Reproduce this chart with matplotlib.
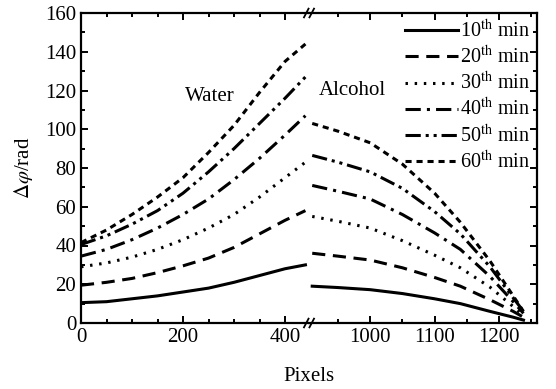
import numpy as np
import matplotlib.pyplot as plt
from matplotlib.ticker import MultipleLocator

plt.rcParams['font.family'] = 'Liberation Serif'
plt.rcParams['mathtext.fontset'] = 'stix'

# water side (left panel)
x_water = [0, 50, 100, 150, 200, 250, 300, 350, 400, 440]
water = {
    '10': [10.5, 11, 12.5, 14, 16, 18, 21, 24.5, 28, 30],
    '20': [19.5, 21, 23, 26, 29.5, 33.5, 39, 46, 53, 58],
    '30': [29, 31, 34, 38, 43, 49, 56, 65, 75, 83],
    '40': [34.5, 38, 43, 49, 56, 64, 74, 85, 97, 107],
    '50': [40.5, 45, 51, 58, 67, 78, 90, 103, 116, 127],
    '60': [41.5, 48, 56, 65, 75, 88, 102, 119, 135, 144],
}

# alcohol side (right panel)
x_alc = [910, 950, 1000, 1050, 1100, 1140, 1186, 1222, 1238]
alcohol = {
    '10': [19, 18.3, 17.2, 15.2, 12.5, 10, 6, 3, 1.5],
    '20': [36, 34.5, 32.5, 28.5, 23.5, 19, 12, 6, 3],
    '30': [55, 52.5, 49, 42.5, 35, 28.5, 18.5, 8.5, 4],
    '40': [71, 68, 64, 56, 46.5, 38, 24, 11, 5],
    '50': [86.5, 83, 78, 69.5, 57.5, 46, 29, 13, 6],
    '60': [103, 99, 93, 82, 67, 52, 32, 14, 6],
}

styles = {
    '10': '-',
    '20': (0, (4.3, 2.5)),
    '30': (0, (0.8, 2.2)),
    '40': (0, (5, 2, 1, 2)),
    '50': (0, (5, 1.6, 1, 1.6, 1, 1.6)),
    '60': (0, (2, 1.6)),
}

fig = plt.figure(figsize=(5.56, 3.89), dpi=100)
axL = fig.add_axes([81/556, 1-323/389, 228/556, 310/389])
axR = fig.add_axes([309/556, 1-323/389, 228/556, 310/389], sharey=axL)

lw = 2.2
for k in water:
    axL.plot(x_water, water[k], color='black', lw=lw, linestyle=styles[k])
    axR.plot(x_alc, alcohol[k], color='black', lw=lw, linestyle=styles[k],
             label='%s$^{\\rm th}$ min' % k)

axL.set_xlim(0, 447)
axR.set_xlim(905, 1259)
axL.set_ylim(0, 160)

axL.xaxis.set_major_locator(MultipleLocator(200))
axL.xaxis.set_minor_locator(MultipleLocator(50))
axR.xaxis.set_major_locator(MultipleLocator(100))
axR.xaxis.set_minor_locator(MultipleLocator(50))
axL.yaxis.set_major_locator(MultipleLocator(20))
axL.yaxis.set_minor_locator(MultipleLocator(10))

for ax in (axL, axR):
    for s in ax.spines.values():
        s.set_linewidth(1.6)
    ax.tick_params(which='both', direction='in', top=True, right=True,
                   width=1.4, labelsize=15)
    ax.tick_params(which='major', length=5)
    ax.tick_params(which='minor', length=3)

axL.spines['right'].set_visible(False)
axL.tick_params(which='both', right=False)
axR.spines['left'].set_visible(False)
axR.tick_params(which='both', left=False, labelleft=False)

# break marks
for yb in (0, 1):
    for dx in (-0.012, 0.012):
        axR.plot([dx - 0.01, dx + 0.01], [yb - 0.014, yb + 0.014],
                 transform=axR.transAxes, color='black', lw=1.3, clip_on=False)

axL.text(253, 117, 'Water', fontsize=15, ha='center', va='center')
axR.text(972, 120, 'Alcohol', fontsize=15, ha='center', va='center')

axL.set_ylabel(r'$\Delta\varphi$/rad', fontsize=15, labelpad=7)
fig.text(309/556, 0.008, 'Pixels', fontsize=15, ha='center', va='bottom')

axR.legend(loc='upper right', frameon=False, fontsize=14.5, handlelength=2.6,
           handletextpad=0.1, labelspacing=0.2, borderaxespad=0.1,
           borderpad=0.25)

fig.savefig('out.png', dpi=100)
